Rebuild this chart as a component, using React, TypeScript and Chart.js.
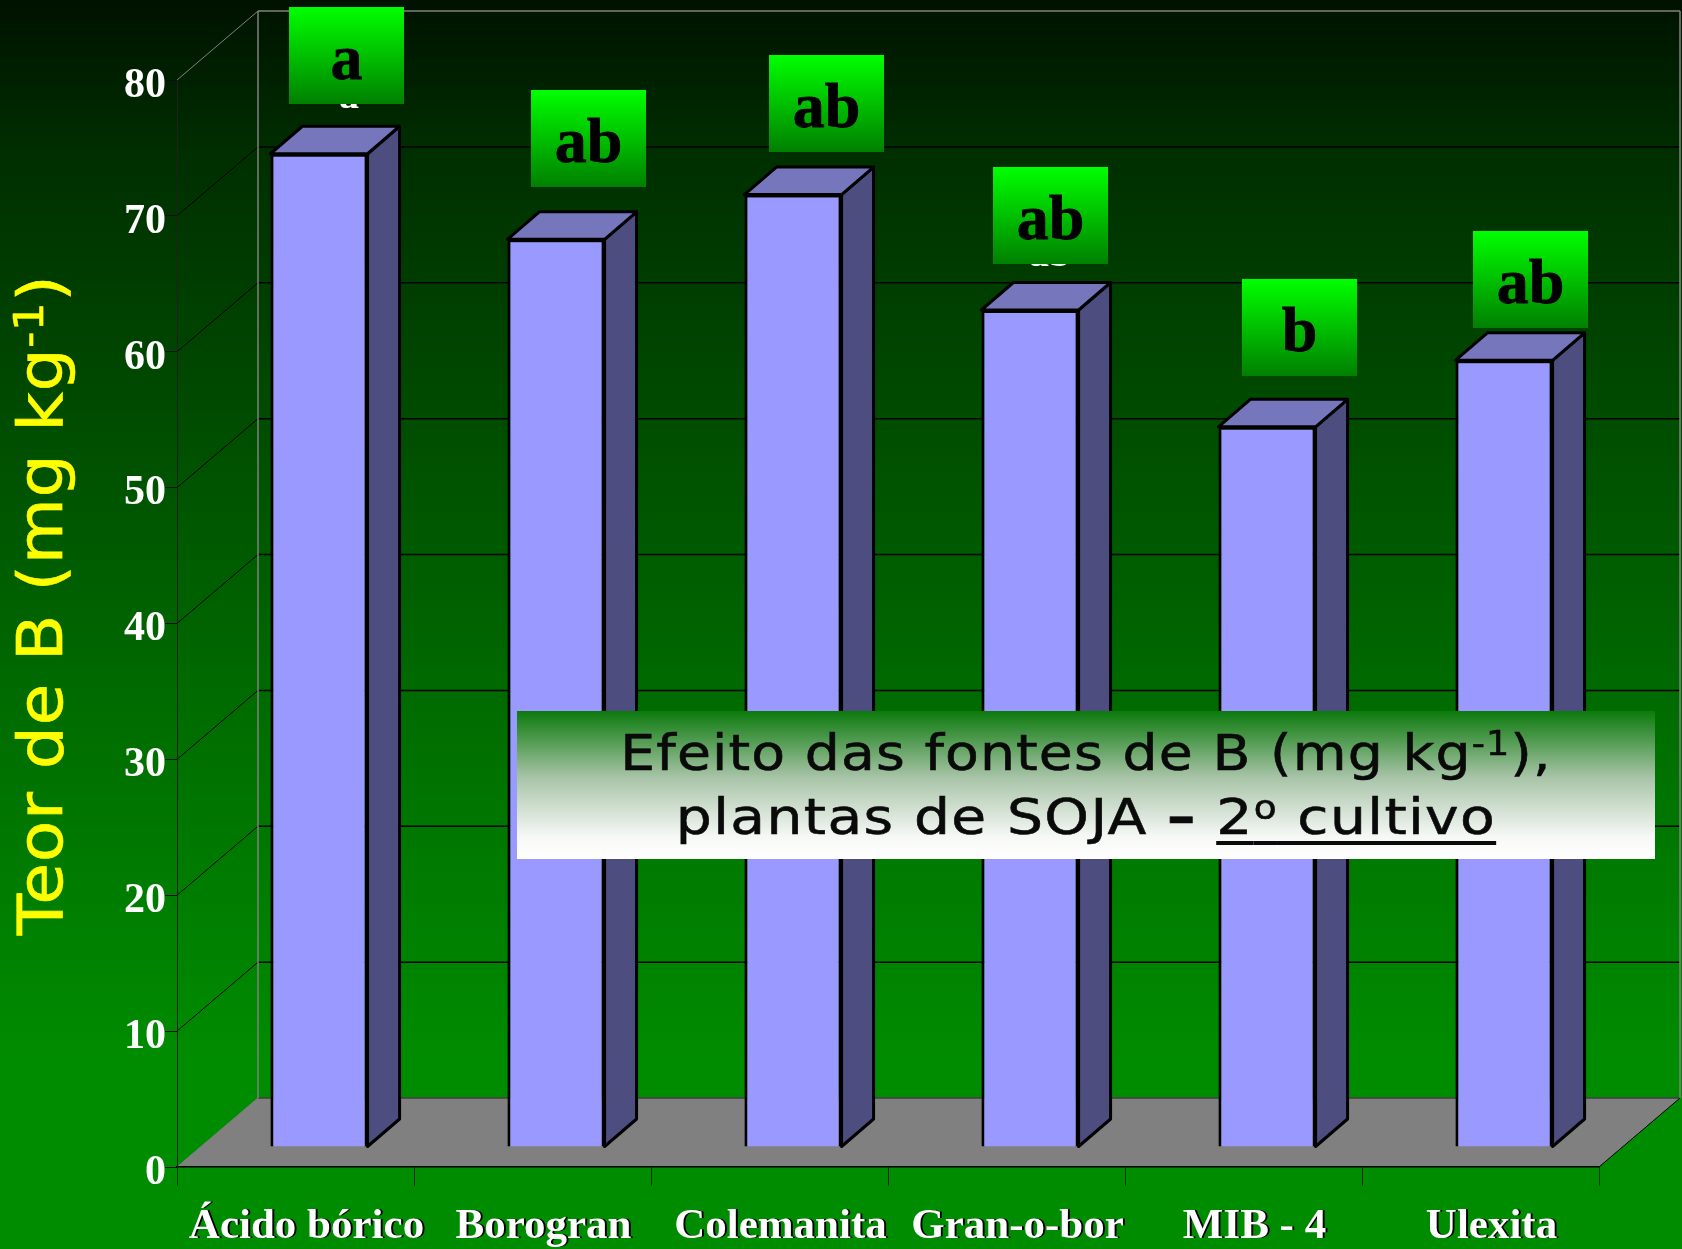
import React, { useEffect, useRef } from "react";
import { Chart, registerables } from "chart.js";

Chart.register(...registerables);

const categories = ["Ácido bórico", "Borogran", "Colemanita", "Gran-o-bor", "MIB - 4", "Ulexita"];
const teorB = [73.1, 66.8, 70.1, 61.6, 53.0, 57.9];
const letters = ["a", "ab", "ab", "ab", "b", "ab"];
const yTitleRuns = [
  { text: "Teor de B (mg kg" },
  { text: "-1", sup: true },
  { text: ")" },
];
const captionLine1 = [
  { text: "Efeito das fontes de B (mg kg" },
  { text: "-1", sup: true },
  { text: ")," },
];
const captionLine2 = [
  { text: "plantas de SOJA " },
  { text: "–", heavy: true },
  { text: " " },
  { text: "2", underline: true },
  { text: "o", sup: true, underline: true },
  { text: " cultivo", underline: true },
];

// Layout of the annotations (not data)
const letterBoxes = [
  [289, 7], [531, 90], [769, 55], [993, 167], [1242, 279], [1473, 231],
];
const BOX_W = 115, BOX_H = 97;
const letterDx = [30, 25, 25, 20, 25, 25];
const letterDy = [46, 64, 46, 44, 64, 46];
const WALL_DX = 81, WALL_DY = 69;
const BAR_SHIFT_X = 23.5, BAR_SHIFT_Y = 20;
const BAR_DX = 32, BAR_DY = 27.5;
const SERIF = '"Liberation Serif"';
const SANS = '"DejaVu Sans"';

function runsWidth(ctx, runs, size, spacing) {
  let w = 0;
  for (const r of runs) {
    ctx.font = `${r.heavy ? "bold " : ""}${r.sup ? size * 0.66 : size}px ${SANS}`;
    ctx.letterSpacing = `${spacing}px`;
    w += ctx.measureText(r.text).width;
  }
  return w;
}

// Draws text runs centred on cx, stretched horizontally by hs
function drawRuns(ctx, runs, cx, y, size, spacing, hs, color, thick = 3) {
  ctx.save();
  const total = runsWidth(ctx, runs, size, spacing);
  ctx.translate(cx - (total * hs) / 2, y);
  ctx.scale(hs, 1);
  ctx.fillStyle = color;
  ctx.strokeStyle = color;
  ctx.lineWidth = 0.6;
  ctx.textAlign = "left";
  ctx.textBaseline = "alphabetic";
  let px = 0;
  for (const r of runs) {
    ctx.font = `${r.heavy ? "bold " : ""}${r.sup ? size * 0.66 : size}px ${SANS}`;
    ctx.letterSpacing = `${spacing}px`;
    const w = ctx.measureText(r.text).width;
    const ty = r.sup ? -size * 0.3 : 0;
    ctx.fillText(r.text, px, ty);
    ctx.strokeText(r.text, px, ty);
    if (r.underline) ctx.fillRect(px, 7, w, thick);
    px += w;
  }
  ctx.letterSpacing = "0px";
  ctx.restore();
}

const scenePlugin = {
  id: "scene",
  beforeDraw(chart) {
    const { ctx, width, height, chartArea: a, scales } = chart;
    ctx.save();
    const g = ctx.createLinearGradient(0, 0, 0, height);
    g.addColorStop(0, "#001200");
    g.addColorStop(0.12, "#002e00");
    g.addColorStop(0.55, "#006a00");
    g.addColorStop(0.85, "#008c00");
    g.addColorStop(1, "#008c00");
    ctx.fillStyle = g;
    ctx.fillRect(0, 0, width, height);

    const y = scales.y, x0 = a.left, x1 = a.right, y0 = a.bottom, yT = a.top;

    // floor
    ctx.fillStyle = "#808080";
    ctx.beginPath();
    ctx.moveTo(x0, y0);
    ctx.lineTo(x1, y0);
    ctx.lineTo(x1 + WALL_DX, y0 - WALL_DY);
    ctx.lineTo(x0 + WALL_DX, y0 - WALL_DY);
    ctx.closePath();
    ctx.fill();

    // grid on side and back walls
    ctx.lineWidth = 1;
    for (const t of y.ticks) {
      const py = y.getPixelForValue(t.value);
      const edge = t.value === y.max || t.value === y.min;
      ctx.strokeStyle = edge ? "#808080" : "#000000";
      ctx.beginPath();
      ctx.moveTo(x0, py);
      ctx.lineTo(x0 + WALL_DX, py - WALL_DY);
      ctx.stroke();
      ctx.lineWidth = 1.5;
      ctx.strokeStyle = t.value === y.min ? "#404040" : edge ? "#808080" : "#000000";
      ctx.beginPath();
      ctx.moveTo(x0 + WALL_DX, py - WALL_DY);
      ctx.lineTo(x1 + WALL_DX, py - WALL_DY);
      ctx.stroke();
      ctx.lineWidth = 1;
    }
    ctx.strokeStyle = "#808080";
    ctx.lineWidth = 1.5;
    ctx.beginPath();
    ctx.moveTo(x0 + WALL_DX, yT - WALL_DY);
    ctx.lineTo(x0 + WALL_DX, y0 - WALL_DY);
    ctx.moveTo(x1 + WALL_DX, yT - WALL_DY);
    ctx.lineTo(x1 + WALL_DX, y0 - WALL_DY);
    ctx.stroke();
    ctx.strokeStyle = "#000000";
    ctx.lineWidth = 1;
    ctx.beginPath();
    ctx.moveTo(x1, y0);
    ctx.lineTo(x1 + WALL_DX, y0 - WALL_DY);
    ctx.stroke();

    // drop shadow under category labels
    const sx = scales.x;
    ctx.font = `bold 43px ${SERIF}`;
    ctx.fillStyle = "#000000";
    ctx.textAlign = "center";
    ctx.textBaseline = "alphabetic";
    categories.forEach((c, i) => {
      ctx.fillText(c, sx.getPixelForTick(i) + 11 + 2, 1236 + 2);
    });
    ctx.restore();
  },
  beforeDatasetDraw(chart) {
    const { ctx } = chart;
    ctx.save();
    ctx.translate(BAR_SHIFT_X, -BAR_SHIFT_Y);
    const meta = chart.getDatasetMeta(0);
    ctx.lineWidth = 3;
    ctx.strokeStyle = "#000000";
    ctx.lineJoin = "round";
    meta.data.forEach((b) => {
      const l = b.x - b.width / 2, r = b.x + b.width / 2, t = b.y, bt = b.base;
      ctx.fillStyle = "#4d4d80";
      ctx.beginPath();
      ctx.moveTo(r, t);
      ctx.lineTo(r + BAR_DX, t - BAR_DY);
      ctx.lineTo(r + BAR_DX, bt - BAR_DY);
      ctx.lineTo(r, bt);
      ctx.closePath();
      ctx.fill();
      ctx.stroke();
      ctx.fillStyle = "#7676bd";
      ctx.beginPath();
      ctx.moveTo(l, t);
      ctx.lineTo(l + BAR_DX, t - BAR_DY);
      ctx.lineTo(r + BAR_DX, t - BAR_DY);
      ctx.lineTo(r, t);
      ctx.closePath();
      ctx.fill();
      ctx.stroke();
    });
  },
  afterDatasetDraw(chart) {
    chart.ctx.restore();
  },
  afterDraw(chart) {
    const { ctx } = chart;
    const meta = chart.getDatasetMeta(0);
    ctx.save();

    // white value letters, almost hidden by the green boxes
    ctx.font = `bold 40px ${SERIF}`;
    ctx.textAlign = "center";
    ctx.textBaseline = "alphabetic";
    ctx.fillStyle = "#ffffff";
    meta.data.forEach((b, i) => {
      if (letterDy[i] > 50) {
        ctx.fillText(letters[i], letterBoxes[i][0] + BOX_W / 2, letterBoxes[i][1] + BOX_H - 4);
        return;
      }
      ctx.fillText(letters[i], b.x + BAR_SHIFT_X + letterDx[i], b.y - BAR_SHIFT_Y - letterDy[i]);
    });

    // green boxes with black letters
    letterBoxes.forEach(([bx, by], i) => {
      const g = ctx.createLinearGradient(0, by, 0, by + BOX_H);
      g.addColorStop(0, "#00ff00");
      g.addColorStop(1, "#008000");
      ctx.fillStyle = g;
      ctx.fillRect(bx, by, BOX_W, BOX_H);
      ctx.fillStyle = "#000000";
      ctx.strokeStyle = "#000000";
      ctx.lineWidth = 0.8;
      ctx.font = `bold 64px ${SERIF}`;
      ctx.fillText(letters[i], bx + BOX_W / 2, by + 72);
      ctx.strokeText(letters[i], bx + BOX_W / 2, by + 72);
    });

    // Y axis title
    ctx.save();
    ctx.translate(62, 605);
    ctx.rotate(-Math.PI / 2);
    drawRuns(ctx, yTitleRuns, 0, 0, 62, 0.6, 1.095, "#ffff00");
    ctx.restore();

    // caption
    const cx = 517, cy = 711, cw = 1138, ch = 148;
    const g = ctx.createLinearGradient(0, cy, 0, cy + ch);
    g.addColorStop(0, "#0c7a0c");
    g.addColorStop(0.45, "#a8c4a8");
    g.addColorStop(0.85, "#f6f8f6");
    g.addColorStop(1, "#ffffff");
    ctx.fillStyle = g;
    ctx.fillRect(cx, cy, cw, ch);
    drawRuns(ctx, captionLine1, 1086, 770, 50, 1, 1.105, "#0a0a0a", 4);
    drawRuns(ctx, captionLine2, 1086, 834, 50, 1.2, 1.135, "#0a0a0a", 4);
    ctx.restore();
  },
};

export default function App() {
  const ref = useRef<HTMLCanvasElement>(null);
  useEffect(() => {
    const chart = new Chart(ref.current!, {
      type: "bar",
      data: {
        labels: categories,
        datasets: [
          {
            data: teorB,
            backgroundColor: "#9999ff",
            borderColor: "#000000",
            borderWidth: 3,
            barPercentage: 0.41,
            categoryPercentage: 1,
            clip: false,
          },
        ],
      },
      options: {
        responsive: false,
        animation: false,
        layout: { padding: { left: 37, right: 83, top: 80, bottom: 0 } },
        plugins: { legend: { display: false }, tooltip: { enabled: false } },
        scales: {
          x: {
            type: "category",
            afterFit: (s) => { s.height = 82; },
            border: { color: "#000000", width: 1.5 },
            grid: { drawOnChartArea: false, drawTicks: true, tickLength: 19, color: "#003000", tickColor: "#003000" },
            ticks: {
              color: "#ffffff",
              font: { family: SERIF, size: 43, weight: "bold" },
              labelOffset: 11,
              padding: 15,
              maxRotation: 0,
              autoSkip: false,
            },
          },
          y: {
            min: 0,
            max: 80,
            afterFit: (s) => { s.width = 140; },
            border: { color: "#202020", width: 1 },
            grid: { drawOnChartArea: false, drawTicks: true, tickLength: 12, color: "#000000", tickColor: "#101010" },
            ticks: {
              stepSize: 10,
              color: "#ffffff",
              font: { family: SERIF, size: 42, weight: "bold" },
              padding: -1,
              labelOffset: 6,
            },
          },
        },
      },
      plugins: [scenePlugin],
    });
    return () => chart.destroy();
  }, []);
  return (
    <div style={{ position: "absolute", left: 0, top: 0, width: 1682, height: 1249 }}>
      <canvas ref={ref} width={1682} height={1249} style={{ display: "block" }} />
    </div>
  );
}
